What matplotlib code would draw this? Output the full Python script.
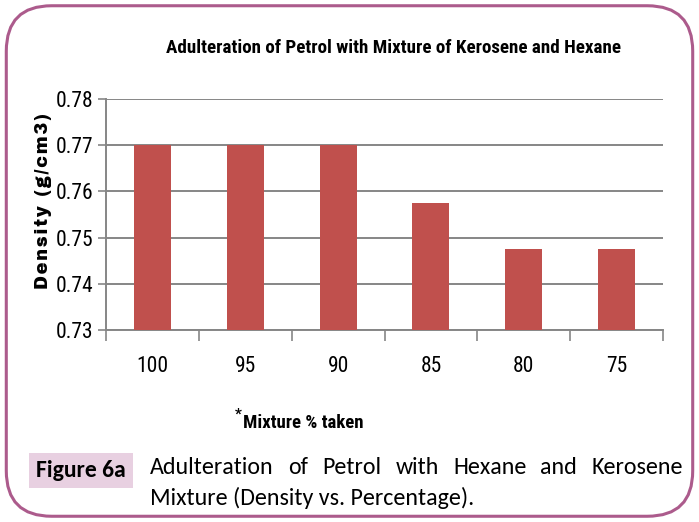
import numpy as np
import matplotlib
matplotlib.use("Agg")
import matplotlib.pyplot as plt
from matplotlib.patches import FancyBboxPatch

categories = ["100", "95", "90", "85", "80", "75"]
density = [0.77, 0.77, 0.77, 0.7575, 0.7475, 0.7475]
yticks = [0.73, 0.74, 0.75, 0.76, 0.77, 0.78]

NARROW = ["Roboto Condensed", "DejaVu Sans"]
CAP = ["Carlito", "DejaVu Sans"]
BAR = "#c0504d"
GRID = "#868686"

fig = plt.figure(figsize=(6.99, 5.22), dpi=100)

# rounded frame round the whole figure
frame = FancyBboxPatch((0.009, 0.011), 0.982, 0.978,
                       boxstyle="round,pad=0,rounding_size=0.065",
                       transform=fig.transFigure, fill=False,
                       edgecolor="#ac5b8c", lw=2.2, mutation_aspect=699 / 522)
fig.patches.append(frame)

ax = fig.add_axes([0.1517, 0.3678, 0.7968, 0.4425])
x = np.arange(len(categories))
ax.bar(x, [d - yticks[0] for d in density], bottom=yticks[0], width=0.4,
       color=BAR, zorder=3)
ax.set_xlim(-0.5, len(categories) - 0.5)
ax.set_ylim(yticks[0], yticks[-1])
ax.set_yticks(yticks)
ax.set_yticklabels([f"{v:.2f}" for v in yticks], family=NARROW, fontsize=15.5)
ax.set_xticks(x)
ax.set_xticklabels(categories, family=NARROW, fontsize=15.5)
ax.tick_params(axis="x", which="major", length=0, pad=19)
ax.set_xticks(np.arange(len(categories) + 1) - 0.5, minor=True)
ax.tick_params(axis="x", which="minor", length=8, color=GRID, width=1.2)
ax.tick_params(axis="y", length=6, color=GRID, width=1.2, pad=3)
ax.grid(axis="y", color=GRID, lw=1.4, zorder=0)
for s in ["top", "right"]:
    ax.spines[s].set_visible(False)
for s in ["left", "bottom"]:
    ax.spines[s].set_color(GRID)
    ax.spines[s].set_linewidth(1.4)

# letter-spaced like the original (hair spaces between letters)
ax.set_ylabel("\u200a".join("Density (g/cm3)"),
              family=["Archivo Black", "DejaVu Sans"], fontsize=12.8)
ax.yaxis.set_label_coords(-0.097, 0.56)

fig.text(0.5625, 0.908, "Adulteration of Petrol with Mixture of Kerosene and Hexane",
         ha="center", va="center", family=NARROW, fontweight="bold", fontsize=13.7)
fig.text(0.336, 0.206, "*", ha="left", va="center",
         family=NARROW, fontweight="bold", fontsize=11)
fig.text(0.348, 0.189, "Mixture % taken", ha="left", va="center",
         family=NARROW, fontweight="bold", fontsize=13.5)

# caption
fig.text(0.052, 0.098, "Figure 6a", ha="left", va="center", family=CAP,
         fontweight="bold", fontsize=17,
         bbox=dict(facecolor="#e8d0e1", edgecolor="none", boxstyle="square,pad=0.3"))

# first caption line is justified between x0 and x1
line1 = "Adulteration of Petrol with Hexane and Kerosene".split()
x0, x1 = 0.2146, 0.977
fig.canvas.draw()
r = fig.canvas.get_renderer()
words = [fig.text(0, 0.104, w, ha="left", va="center", family=CAP, fontsize=17.3)
         for w in line1]
widths = [t.get_window_extent(r).width / fig.bbox.width for t in words]
gap = (x1 - x0 - sum(widths)) / (len(words) - 1)
pos = x0
for t, w in zip(words, widths):
    t.set_x(pos)
    pos += w + gap
fig.text(x0, 0.046, "Mixture (Density vs. Percentage).",
         ha="left", va="center", family=CAP, fontsize=17.3)

fig.savefig("out.png", dpi=100)
